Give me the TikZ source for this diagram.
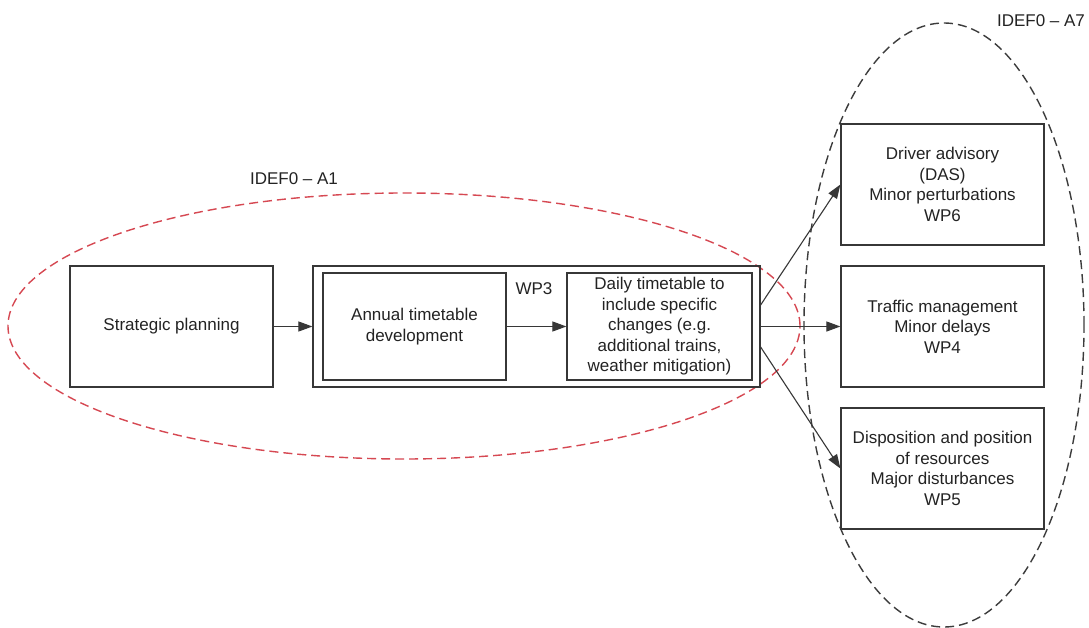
\documentclass[tikz,border=0pt]{standalone}
\usepackage{fontspec}
\setmainfont{Liberation Sans}
\usetikzlibrary{arrows.meta}
\definecolor{boxline}{RGB}{55,55,55}
\definecolor{txt}{RGB}{35,35,35}
\definecolor{redline}{RGB}{214,72,82}
\definecolor{blackline}{RGB}{60,60,60}
\tikzset{
  box/.style={draw=boxline, line width=1.2pt, fill=none, align=center, text=txt, inner sep=0pt,
    font=\fontsize{17}{20.5}\selectfont},
  lbl/.style={text=txt, inner sep=0pt, font=\fontsize{17}{20.5}\selectfont},
  conn/.style={draw=boxline, line width=1.1pt, -{Triangle[length=14pt,width=10pt]}},
  redell/.style={draw=redline, line width=1.4pt, dash pattern=on 9pt off 5pt},
  blkell/.style={draw=blackline, line width=1.4pt, dash pattern=on 9pt off 5pt}
}
\begin{document}
\begin{tikzpicture}[x=1pt,y=-1pt]
\useasboundingbox[fill=white] (0,0) rectangle (1089,628);
% ellipses
\draw[redell] (404,326) ellipse [x radius=396pt, y radius=133pt];
\draw[blkell] (944,325) ellipse [x radius=140pt, y radius=302pt];
% labels
\node[lbl] (a1) at (294,179) {IDEF0 -- A1};
\node[lbl] (a7) at (1041,21) {IDEF0 -- A7};
% boxes
\node[box, minimum width=203pt, minimum height=121pt] (sp) at (171.5,326.5) {Strategic planning};
\node[box, minimum width=447pt, minimum height=121pt] (outer) at (536.5,326.5) {};
\node[box, minimum width=183pt, minimum height=107pt] (an) at (414.5,326.5) {Annual timetable\\development};
\node[box, minimum width=185pt, minimum height=107pt] (dt) at (659.5,326.5) {Daily timetable to\\include specific\\changes (e.g.\\additional trains,\\weather mitigation)};
\node[lbl] (wp3) at (534,289) {WP3};
\node[box, minimum width=203pt, minimum height=121pt] (das) at (942.5,184.5) {Driver advisory\\(DAS)\\Minor perturbations\\WP6};
\node[box, minimum width=203pt, minimum height=121pt] (tm) at (942.5,326.5) {Traffic management\\Minor delays\\WP4};
\node[box, minimum width=203pt, minimum height=121pt] (dp) at (942.5,468.5) {Disposition and position\\of resources\\Major disturbances\\WP5};
% connectors
\draw[conn] (sp.east) -- (outer.west);
\draw[conn] (an.east) -- (dt.west);
\draw[conn] ([yshift=21.5pt]outer.east) -- (das.west);
\draw[conn] (outer.east) -- (tm.west);
\draw[conn] ([yshift=-20.5pt]outer.east) -- (dp.west);
\end{tikzpicture}
\end{document}
